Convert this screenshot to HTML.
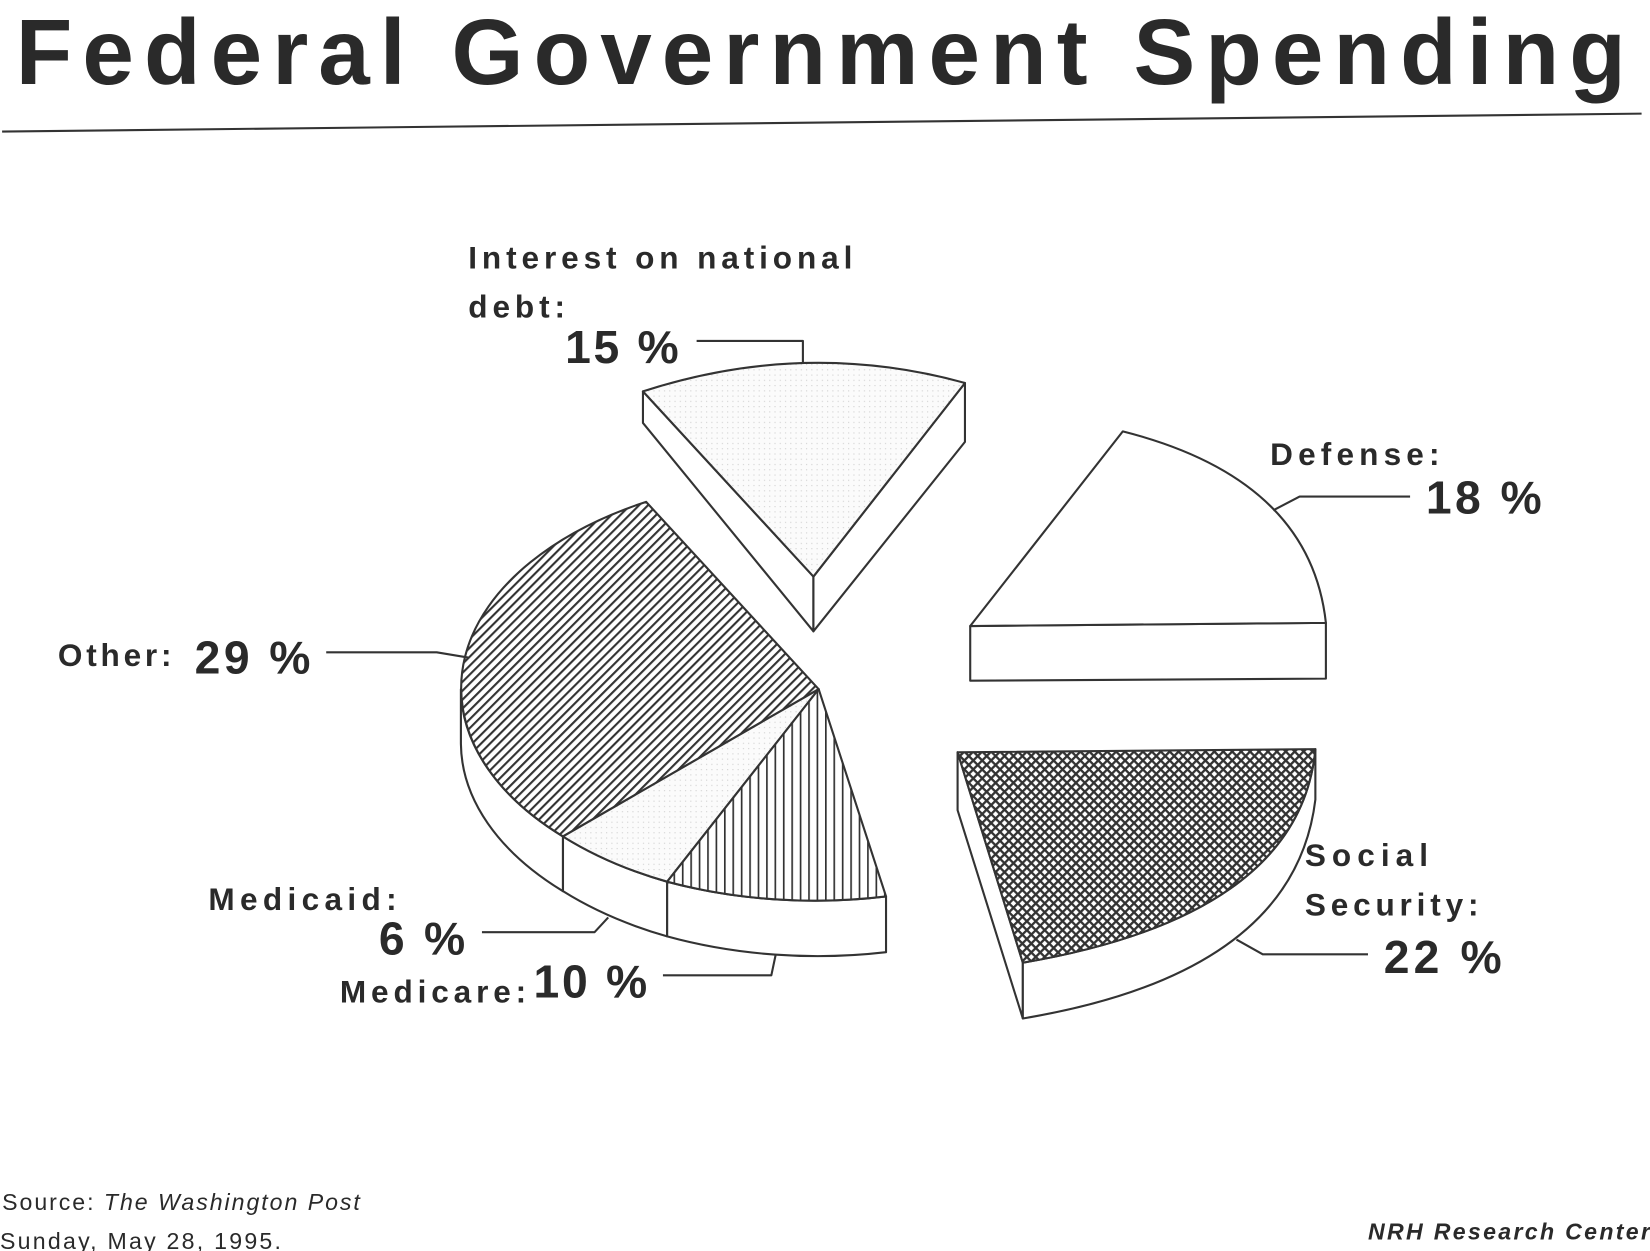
<!DOCTYPE html>
<html><head><style>
html,body{margin:0;padding:0;background:#fff;}
svg{display:block;}
text{font-family:"Liberation Sans",sans-serif;fill:#2a2a2a;}
</style></head><body>
<svg width="1650" height="1251" viewBox="0 0 1568 1189" preserveAspectRatio="none" xmlns="http://www.w3.org/2000/svg">
<defs>
<pattern id="diag" width="6" height="6" patternUnits="userSpaceOnUse" patternTransform="rotate(45)">
<rect width="6" height="6" fill="#fff"/><rect width="2" height="6" fill="#333"/></pattern>
<pattern id="vert" width="8" height="8" patternUnits="userSpaceOnUse">
<rect width="8" height="8" fill="#fff"/><rect width="1.6" height="8" fill="#333"/></pattern>
<pattern id="cross" width="6" height="6" patternUnits="userSpaceOnUse" patternTransform="rotate(45)">
<rect width="6" height="6" fill="#fff"/><rect width="2.2" height="6" fill="#333"/><rect width="6" height="2.2" fill="#333"/></pattern>
<pattern id="dots" width="5" height="5" patternUnits="userSpaceOnUse">
<rect width="5" height="5" fill="#fbfbfb"/><rect x="1" y="1" width="1" height="1" fill="#ccc"/></pattern>
</defs>
<g stroke="#333" stroke-width="2" stroke-linejoin="round" fill="#fff">
<text x="15" y="80" font-size="88" font-weight="bold" textLength="1530" stroke="none" fill="#2a2a2a">Federal Government Spending</text>
<line x1="2" y1="125" x2="1560" y2="108"/>

<path d="M438,655 A340,202 0 0 0 535,795 L535,847 A340,202 0 0 1 438,707 Z"/>
<path d="M535,795 A340,202 0 0 0 634,838 L634,890 A340,202 0 0 1 535,847 Z"/>
<path d="M634,838 A340,202 0 0 0 842,852 L842,905 A340,202 0 0 1 634,890 Z"/>
<path d="M778,655 L614,477 A340,202 0 0 0 535,795 Z" fill="url(#diag)"/>
<path d="M778,655 L535,795 A340,202 0 0 0 634,838 Z" fill="url(#dots)"/>
<path d="M778,655 L634,838 A340,202 0 0 0 842,852 Z" fill="url(#vert)"/>

<path d="M611,372 L611,402 L773,600 L773,548 Z"/>
<path d="M917,364 L917,420 L773,600 L773,548 Z"/>
<path d="M773,548 L611,372 Q765,322 917,364 Z" fill="url(#dots)"/>

<path d="M922,595 L1260,592 L1260,645 L922,647 Z"/>
<path d="M922,595 L1067,410 Q1245,455 1260,592 Z"/>

<path d="M910,715 L910,770 L972,968 L972,915 Z"/>
<path d="M972,915 Q1235,870 1250,712 L1250,760 Q1230,925 972,968 Z"/>
<path d="M910,715 L1250,712 Q1235,870 972,915 Z" fill="url(#cross)"/>

<g fill="none">
<path d="M662,324 L763,324 L763,345"/>
<path d="M1340,472 L1235,472 L1210,485"/>
<path d="M310,620 L415,620 L445,625"/>
<path d="M458,886 L565,886 L578,872"/>
<path d="M630,927 L733,927 L737,908"/>
<path d="M1300,907 L1200,907 L1175,893"/>
</g>
</g>
<g font-weight="bold">
<text x="445" y="255" font-size="30" textLength="365">Interest on national</text>
<text x="445" y="302" font-size="30" textLength="92">debt:</text>
<text x="537" y="345" font-size="44" textLength="108">15 %</text>
<text x="1207" y="442" font-size="30" textLength="161">Defense:</text>
<text x="1355" y="488" font-size="44" textLength="110">18 %</text>
<text x="55" y="633" font-size="30" textLength="108">Other:</text>
<text x="185" y="640" font-size="44" textLength="110">29 %</text>
<text x="198" y="865" font-size="30" textLength="179">Medicaid:</text>
<text x="360" y="907" font-size="44" textLength="82">6 %</text>
<text x="323" y="953" font-size="30" textLength="177">Medicare:</text>
<text x="507" y="948" font-size="44" textLength="108">10 %</text>
<text x="1240" y="823" font-size="30" textLength="117">Social</text>
<text x="1240" y="870" font-size="30" textLength="165">Security:</text>
<text x="1315" y="925" font-size="44" textLength="112">22 %</text>
</g>
<text x="2" y="1150" font-size="22" textLength="340">Source: <tspan font-style="italic">The Washington Post</tspan></text>
<text x="0" y="1187" font-size="22" textLength="267">Sunday, May 28, 1995.</text>
<text x="1300" y="1178" font-size="22" font-style="italic" font-weight="bold" textLength="268">NRH Research Center</text>
</svg>
</body></html>
